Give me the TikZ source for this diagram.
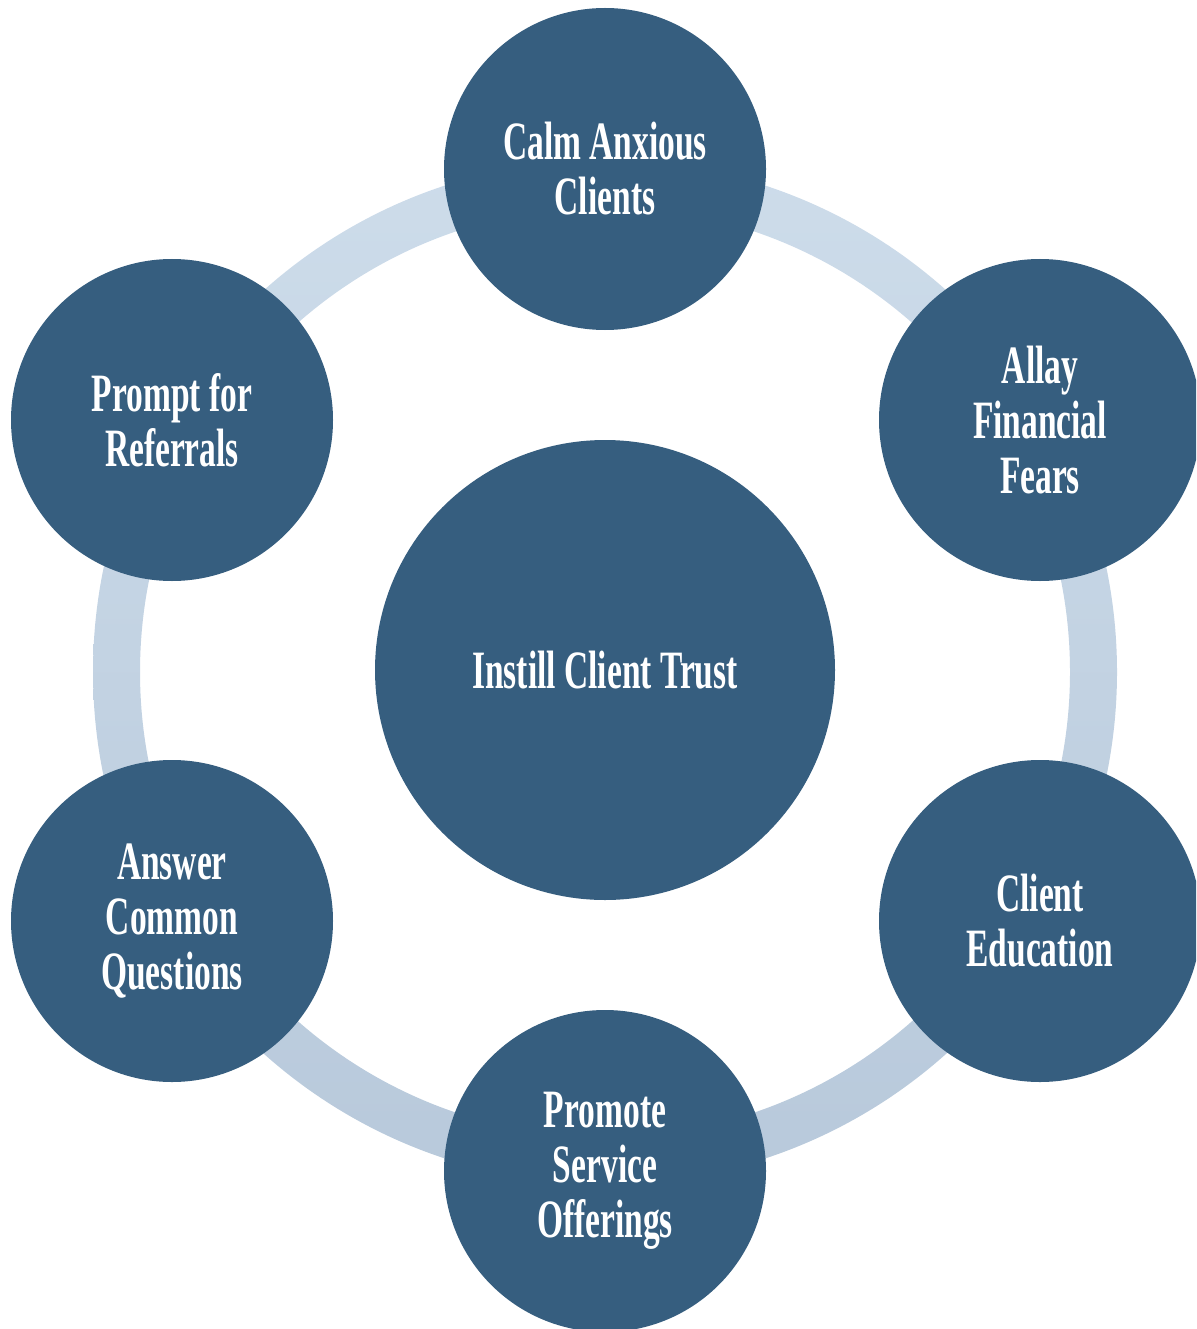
\documentclass[tikz,border=0pt]{standalone}
\usepackage{fontspec}
\setmainfont{Liberation Serif}[FakeStretch=0.62]
\definecolor{circfill}{HTML}{365E7F}
\definecolor{ringtop}{HTML}{CDDCEA}
\definecolor{ringbot}{HTML}{B8C9DB}
\begin{document}
\begin{tikzpicture}[x=1pt,y=-1pt,
  bubble/.style={circle, fill=circfill, draw=none, minimum size=322pt, inner sep=0pt,
    text=white, align=center, font=\fontsize{54}{55}\selectfont\bfseries},
  hub/.style={bubble, minimum size=460pt}]
\useasboundingbox (0,0) rectangle (1196,1329);
\clip (0,0) rectangle (1196,1329);
\coordinate (c) at (605,672);
\shade[top color=ringtop, bottom color=ringbot, even odd rule]
  (605,672) circle[radius=512] (605,672) circle[radius=465];
\node[hub] (center) at (605,670) {Instill Client Trust};
\node[bubble] (top) at (605,169) {Calm Anxious\\Clients};
\node[bubble] (ur) at (1040,420) {Allay\\Financial\\Fears};
\node[bubble] (lr) at (1040,921) {Client\\Education};
\node[bubble] (bot) at (605,1171) {Promote\\Service\\Offerings};
\node[bubble] (ll) at (172,921) {Answer\\Common\\Questions};
\node[bubble] (ul) at (172,420) {Prompt for\\Referrals};
\end{tikzpicture}
\end{document}
